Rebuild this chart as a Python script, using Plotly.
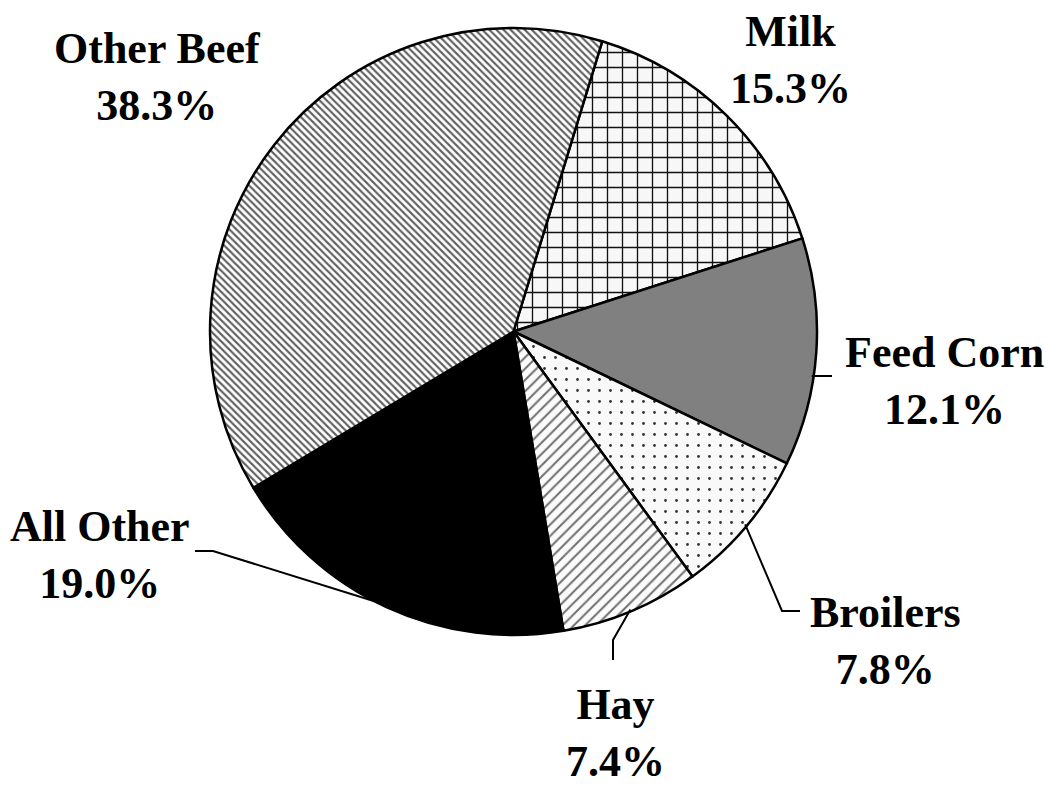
import math

import plotly.graph_objects as go

# slice order, clockwise from the Milk / Other Beef boundary
LABELS = ["Milk", "Feed Corn", "Broilers", "Hay", "All Other", "Other Beef"]
SHARES = [15.3, 12.1, 7.8, 7.4, 19.0, 38.3]

W, H = 1057, 787
CX, CY, R = 513.5, 331.5, 303.5
ROTATION = 17

# fills: (bg colour, pattern shape, fg colour, pattern size, solidity)
FILLS = {
    "Milk": ("#f7f7f7", "+", "#111111", 15, 0.17),
    "Feed Corn": ("#808080", "", "#808080", 8, 0.3),
    "Broilers": ("#f9f9f9", ".", "#333333", 11, 0.05),
    "Hay": ("#fbfbfb", "/", "#707070", 8, 0.25),
    "All Other": ("#000000", "", "#000000", 8, 0.3),
    "Other Beef": ("#ffffff", "\\", "#606060", 5, 0.42),
}

# label block centres and leader-line elbow/end points (px)
LABEL_POS = {
    "Milk": (790, 60),
    "Feed Corn": (944, 381),
    "Broilers": (885, 641),
    "Hay": (615, 733),
    "All Other": (100, 555),
    "Other Beef": (157, 77),
}
LEADERS = {
    "Feed Corn": [(832, 376)],
    "Broilers": [(782, 611), (800, 611)],
    "Hay": [(613, 640), (613, 660)],
    "All Other": [(213, 551), (195, 551)],
}
# leaders that leave the pie horizontally instead of at the slice middle
FLAT_LEADERS = {"Feed Corn"}


def px(x, y):
    # pixels -> paper coords
    return x / W, 1 - y / H


fig = go.Figure()
fig.add_trace(
    go.Pie(
        labels=LABELS,
        values=SHARES,
        sort=False,
        direction="clockwise",
        rotation=ROTATION,
        textinfo="none",
        hoverinfo="label+value",
        showlegend=False,
        domain={
            "x": [(CX - R) / W, (CX + R) / W],
            "y": [1 - (CY + R) / H, 1 - (CY - R) / H],
        },
        marker={
            "colors": [FILLS[k][0] for k in LABELS],
            "line": {"color": "#000000", "width": 2.5},
            "pattern": {
                "shape": [FILLS[k][1] for k in LABELS],
                "fgcolor": [FILLS[k][2] for k in LABELS],
                "bgcolor": [FILLS[k][0] for k in LABELS],
                "size": [FILLS[k][3] for k in LABELS],
                "solidity": [FILLS[k][4] for k in LABELS],
                "fillmode": "replace",
            },
        },
    )
)

total = sum(SHARES)
start = ROTATION
for label, share in zip(LABELS, SHARES):
    span = 360 * share / total
    mid = math.radians(start + span / 2)
    start += span
    ax, ay = px(*LABEL_POS[label])
    fig.add_annotation(
        x=ax,
        y=ay,
        xref="paper",
        yref="paper",
        text=f"<b>{label}<br>{share:.1f}%</b>",
        showarrow=False,
        align="center",
        xanchor="center",
        yanchor="middle",
        font={"family": "Liberation Serif, Times New Roman, serif", "size": 44, "color": "#000000"},
    )
    if label in LEADERS:
        if label in FLAT_LEADERS:
            ey = LEADERS[label][0][1]
            edge = (CX + math.sqrt((R - 2) ** 2 - (ey - CY) ** 2), ey)
        else:
            edge = (CX + (R - 2) * math.sin(mid), CY - (R - 2) * math.cos(mid))
        pts = [edge] + LEADERS[label]
        path = "M " + " L ".join(f"{px(x, y)[0]:.5f},{px(x, y)[1]:.5f}" for x, y in pts)
        fig.add_shape(
            type="path",
            path=path,
            xref="paper",
            yref="paper",
            line={"color": "#000000", "width": 2},
        )

fig.update_layout(
    width=W,
    height=H,
    margin={"l": 0, "r": 0, "t": 0, "b": 0},
    paper_bgcolor="#ffffff",
    plot_bgcolor="#ffffff",
)
# drop the default body margin so the figure fills the window exactly
fig.write_html(
    "out.html",
    config={"displayModeBar": False},
    post_script="document.body.style.margin='0';document.body.style.overflow='hidden';",
)
